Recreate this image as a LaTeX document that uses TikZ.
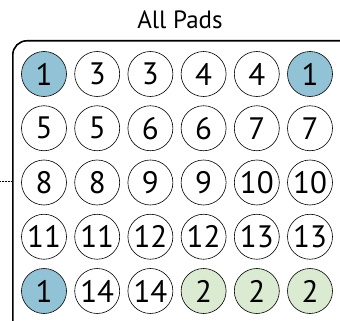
\documentclass[tikz,border=0pt]{standalone}
\usepackage{fontspec}
\setmainfont{PT Sans}
\definecolor{padblue}{RGB}{146,194,213}
\definecolor{padgreen}{RGB}{218,235,210}

\begin{document}
\begin{tikzpicture}[pad/.style={draw, circle, minimum size=45pt, inner sep=0pt, line width=0.6pt, font=\fontsize{31}{31}\selectfont}, x=1pt, y=-1pt]
	\useasboundingbox (0,0) rectangle (340,321);
	\clip (0,0) rectangle (340,321);
	% frame around the pads, runs off the right and bottom
	\node (frame) [draw, line width=1.6pt, rounded corners=14pt, minimum width=345pt, minimum height=300pt, anchor=north west] at (12,40) {};
	\node (title) at (180,20) {\fontsize{25}{25}\selectfont All Pads};
	\coordinate (tick) at (0,181);
	\draw[densely dotted, line width=0.5pt] (tick) -- (frame.west |- tick);
	% pads, row by row
	\foreach \labels [count=\r] in {{1/padblue,3/white,3/white,4/white,4/white,1/padblue},
			{5/white,5/white,6/white,6/white,7/white,7/white},
			{8/white,8/white,9/white,9/white,10/white,10/white},
			{11/white,11/white,12/white,12/white,13/white,13/white},
			{1/padblue,14/white,14/white,2/padgreen,2/padgreen,2/padgreen}}
		\foreach \n/\c [count=\k] in \labels
			\node[pad, fill=\c] (p\r\k) at ({44+53.2*(\k-1)}, {74+54.25*(\r-1)}) {\n};
\end{tikzpicture}
\end{document}
